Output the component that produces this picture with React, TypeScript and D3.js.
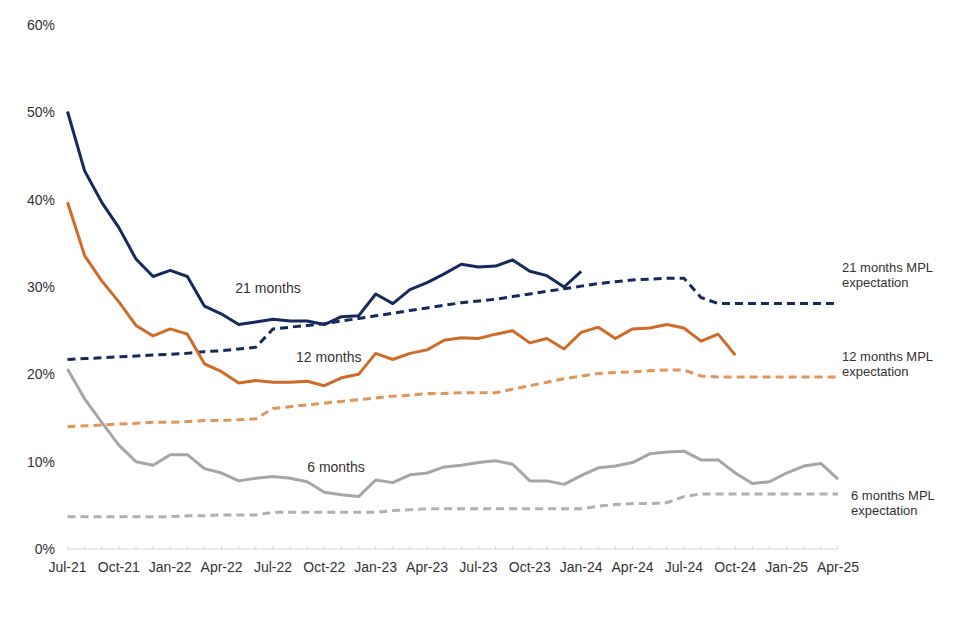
import React from "react";
import * as d3 from "d3";

// month index 0 = Jul-21 ... 45 = Apr-25
const tickLabels = [
  "Jul-21", "Oct-21", "Jan-22", "Apr-22", "Jul-22", "Oct-22", "Jan-23", "Apr-23",
  "Jul-23", "Oct-23", "Jan-24", "Apr-24", "Jul-24", "Oct-24", "Jan-25", "Apr-25",
];
const yTicks = [0, 10, 20, 30, 40, 50, 60];

const months21 = [
  50.1, 43.3, 39.7, 36.8, 33.2, 31.2, 31.9, 31.2, 27.8, 26.9, 25.7, 26.0,
  26.3, 26.1, 26.1, 25.7, 26.6, 26.7, 29.2, 28.1, 29.7, 30.5, 31.5, 32.6,
  32.3, 32.4, 33.1, 31.8, 31.3, 30.0, 31.8,
];
const months12 = [
  39.7, 33.6, 30.7, 28.3, 25.6, 24.4, 25.2, 24.6, 21.2, 20.3, 19.0, 19.3,
  19.1, 19.1, 19.2, 18.7, 19.6, 20.0, 22.4, 21.7, 22.4, 22.8, 23.9, 24.2,
  24.1, 24.6, 25.0, 23.6, 24.1, 22.9, 24.8, 25.4, 24.1, 25.2, 25.3, 25.7,
  25.3, 23.8, 24.6, 22.2,
];
const months6 = [
  20.6, 17.2, 14.5, 11.9, 10.0, 9.6, 10.8, 10.8, 9.2, 8.7, 7.8, 8.1,
  8.3, 8.1, 7.7, 6.5, 6.2, 6.0, 7.9, 7.6, 8.5, 8.7, 9.4, 9.6,
  9.9, 10.1, 9.7, 7.8, 7.8, 7.4, 8.4, 9.3, 9.5, 9.9, 10.9, 11.1,
  11.2, 10.2, 10.2, 8.7, 7.5, 7.7, 8.7, 9.5, 9.8, 8.0,
];
const mpl21 = [
  21.7, 21.8, 21.9, 22.0, 22.1, 22.2, 22.3, 22.4, 22.6, 22.7, 22.9, 23.1,
  25.2, 25.4, 25.6, 25.8, 26.1, 26.4, 26.7, 27.0, 27.3, 27.6, 27.9, 28.2,
  28.4, 28.6, 28.9, 29.2, 29.5, 29.8, 30.1, 30.4, 30.6, 30.8, 30.9, 31.0,
  31.0, 28.8, 28.1, 28.1, 28.1, 28.1, 28.1, 28.1, 28.1, 28.1,
];
const mpl12 = [
  14.0, 14.1, 14.2, 14.3, 14.4, 14.5, 14.5, 14.6, 14.7, 14.7, 14.8, 14.9,
  16.1, 16.3, 16.5, 16.7, 16.9, 17.1, 17.3, 17.5, 17.6, 17.8, 17.8, 17.9,
  17.9, 17.9, 18.3, 18.7, 19.1, 19.5, 19.8, 20.1, 20.2, 20.3, 20.4, 20.5,
  20.5, 19.8, 19.7, 19.7, 19.7, 19.7, 19.7, 19.7, 19.7, 19.7,
];
const mpl6 = [
  3.7, 3.7, 3.7, 3.7, 3.7, 3.7, 3.7, 3.8, 3.8, 3.9, 3.9, 3.9,
  4.2, 4.2, 4.2, 4.2, 4.2, 4.2, 4.2, 4.4, 4.5, 4.6, 4.6, 4.6,
  4.6, 4.6, 4.6, 4.6, 4.6, 4.6, 4.6, 4.9, 5.1, 5.2, 5.2, 5.3,
  6.0, 6.3, 6.3, 6.3, 6.3, 6.3, 6.3, 6.3, 6.3, 6.3,
];

const navy = "#14295e";
const orange = "#cf6a28";
const orangeLight = "#e0955a";
const grey = "#a6a6a6";
const greyDash = "#b0b0b0";
const textColor = "#333333";
const font = "'Liberation Sans', Arial, sans-serif";

const width = 960;
const height = 640;
const x = d3.scaleLinear().domain([0, 45]).range([67.5, 838]);
const y = d3.scaleLinear().domain([0, 60]).range([549, 25]);

const line = d3.line<number>()
  .x((d, i) => x(i))
  .y((d) => y(d));

const series = [
  { data: mpl6, color: greyDash, dash: "8 5" },
  { data: mpl12, color: orangeLight, dash: "8 5" },
  { data: mpl21, color: navy, dash: "8 5" },
  { data: months6, color: grey, dash: null },
  { data: months12, color: orange, dash: null },
  { data: months21, color: navy, dash: null },
];

export default function App() {
  return (
    <svg
      width={width}
      height={height}
      viewBox={`0 0 ${width} ${height}`}
      style={{ position: "absolute", left: 0, top: 0, background: "#fff" }}
      fontFamily={font}
    >
      {/* y labels */}
      {yTicks.map((t) => (
        <text key={t} x={55} y={y(t)} dy="0.35em" textAnchor="end" fontSize={14} fill={textColor}>
          {t}%
        </text>
      ))}

      {/* x axis */}
      <line x1={x(0)} x2={x(45)} y1={y(0)} y2={y(0)} stroke="#d4d4d4" strokeWidth={1} />
      {d3.range(46).map((i) => (
        <line key={i} x1={x(i)} x2={x(i)} y1={y(0)} y2={y(0) - 3} stroke="#d4d4d4" strokeWidth={1} />
      ))}
      {tickLabels.map((l, k) => (
        <text key={l} x={x(k * 3)} y={y(0) + 18} dy="0.35em" textAnchor="middle" fontSize={14} fill={textColor}>
          {l}
        </text>
      ))}

      {/* lines */}
      {series.map((s, k) => (
        <path
          key={k}
          d={line(s.data) ?? ""}
          fill="none"
          stroke={s.color}
          strokeWidth={3}
          strokeDasharray={s.dash ?? undefined}
          strokeLinejoin="round"
        />
      ))}

      {/* inline labels */}
      <text x={x(9.8)} y={y(29.9)} dy="0.35em" fontSize={14} fill={textColor}>21 months</text>
      <text x={x(13.35)} y={y(22.0)} dy="0.35em" fontSize={14} fill={textColor}>12 months</text>
      <text x={x(14)} y={y(9.4)} dy="0.35em" fontSize={14} fill={textColor}>6 months</text>

      {/* right labels */}
      <text x={x(45) + 4} y={y(32.2)} dy="0.35em" fontSize={13} fill={textColor}>
        <tspan x={x(45) + 4}>21 months MPL</tspan>
        <tspan x={x(45) + 4} dy={15}>expectation</tspan>
      </text>
      <text x={x(45) + 4} y={y(22.1)} dy="0.35em" fontSize={13} fill={textColor}>
        <tspan x={x(45) + 4}>12 months MPL</tspan>
        <tspan x={x(45) + 4} dy={15}>expectation</tspan>
      </text>
      <text x={x(45) + 13} y={y(6.1)} dy="0.35em" fontSize={13} fill={textColor}>
        <tspan x={x(45) + 13}>6 months MPL</tspan>
        <tspan x={x(45) + 13} dy={15}>expectation</tspan>
      </text>
    </svg>
  );
}
